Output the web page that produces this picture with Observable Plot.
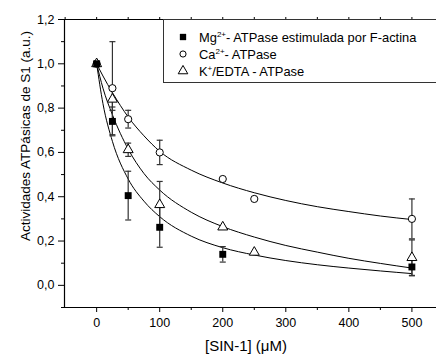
<!DOCTYPE html>
<html><head><meta charset="utf-8">
<script src="https://cdn.jsdelivr.net/npm/d3@7"></script>
<script src="https://cdn.jsdelivr.net/npm/@observablehq/plot@0.6"></script>
<style>
body{margin:0;background:#fff;}
#chart svg{font-family:"Liberation Sans",Arial,sans-serif;overflow:visible;}
</style></head><body><div id="chart"></div>
<script>
// ---- data ----
const mgX   = [0, 25, 50, 100, 200, 500];
const mgY   = [1.0, 0.74, 0.405, 0.262, 0.14, 0.083];
const mgErr = [0, 0.065, 0.11, 0.09, 0.035, 0.04];

const caX   = [0, 25, 50, 100, 200, 250, 500];
const caY   = [1.0, 0.89, 0.75, 0.60, 0.48, 0.39, 0.30];
const caErr = [0, 0.21, 0.04, 0.055, 0, 0, 0.09];

const kX    = [0, 25, 50, 100, 200, 250, 500];
const kY    = [1.0, 0.84, 0.612, 0.364, 0.263, 0.149, 0.125];
const kErr  = [0, 0.05, 0.03, 0.105, 0, 0, 0.08];

const fitX  = [0, 10, 25, 50, 75, 100, 150, 200, 250, 300, 350, 400, 450, 500];
const mgFit = [1.0, 0.82, 0.65, 0.48, 0.38, 0.31, 0.222, 0.17, 0.137, 0.112, 0.093, 0.078, 0.065, 0.053];
const caFit = [1.0, 0.945, 0.87, 0.76, 0.675, 0.605, 0.52, 0.462, 0.418, 0.383, 0.355, 0.333, 0.313, 0.297];
const kFit  = [1.0, 0.89, 0.77, 0.615, 0.505, 0.43, 0.33, 0.265, 0.218, 0.18, 0.15, 0.122, 0.099, 0.078];

const xMajorTicks = [0, 100, 200, 300, 400, 500];
const xMinorTicks = [50, 150, 250, 350, 450];
const xTopTicks   = [-50, 0, 50, 100, 150, 200, 250, 300, 350, 400, 450, 500];
const yMajorTicks = [0, 0.2, 0.4, 0.6, 0.8, 1.0, 1.2];
const yMinorTicks = [-0.1, 0.1, 0.3, 0.5, 0.7, 0.9, 1.1];
const xDomain = [-51, 539];
const yDomain = [-0.1, 1.2];

const xTitle = "[SIN-1] (\u03BCM)";
const yTitle = "Actividades ATPásicas de S1 (a.u.)";

// ---- tables ----
const pts = (xs, ys, es, s) => xs.map((x, i) => ({x, y: ys[i], e: es[i], s}));
const mgPts = pts(mgX, mgY, mgErr, "Mg");
const caPts = pts(caX, caY, caErr, "Ca");
const kPts  = pts(kX, kY, kErr, "K");
const errPts = [...mgPts, ...caPts, ...kPts].filter(d => d.e > 0);
const fit = (ys, s) => fitX.map((x, i) => ({x, y: ys[i], s}));

const cap = {draw(ctx) { ctx.moveTo(-3, 0); ctx.lineTo(3, 0); }};
const fmt = d => d.toFixed(1).replace(".", ",");

const plot = Plot.plot({
  width: 436, height: 358,
  marginLeft: 64, marginRight: 0, marginTop: 19, marginBottom: 51,
  style: {fontFamily: "Liberation Sans, Arial, sans-serif", fontSize: "12.5px", color: "#000", background: "#fff"},
  x: {domain: xDomain},
  y: {domain: yDomain},
  marks: [
    Plot.ruleX([xDomain[0]], {stroke: "#000", strokeWidth: 1.2}),
    Plot.ruleY([yDomain[0]], {stroke: "#000", strokeWidth: 1.2}),
    Plot.ruleY([yDomain[1]], {stroke: "#000", strokeWidth: 1}),
    Plot.axisX({ticks: xMajorTicks, tickSize: 5, tickPadding: 6, label: null}),
    Plot.axisX({ticks: xMinorTicks, tickSize: 3, tickFormat: () => "", label: null}),
    Plot.axisX({anchor: "top", ticks: xTopTicks, tickSize: 3, tickFormat: () => "", label: null}),
    Plot.axisY({ticks: yMajorTicks, tickSize: 6, tickPadding: 4, tickFormat: fmt, label: null}),
    Plot.axisY({ticks: yMinorTicks, tickSize: 3, tickFormat: () => "", label: null}),
    Plot.line(fit(mgFit, "Mg"), {x: "x", y: "y", curve: "monotone-x", stroke: "#000", strokeWidth: 1}),
    Plot.line(fit(caFit, "Ca"), {x: "x", y: "y", curve: "monotone-x", stroke: "#000", strokeWidth: 1}),
    Plot.line(fit(kFit, "K"), {x: "x", y: "y", curve: "monotone-x", stroke: "#000", strokeWidth: 1}),
    Plot.ruleX(errPts, {x: "x", y1: d => d.y - d.e, y2: d => d.y + d.e, stroke: "#333", strokeWidth: 1.2}),
    Plot.dot(errPts, {x: "x", y: d => d.y + d.e, symbol: cap, stroke: "#333", strokeWidth: 1.2}),
    Plot.dot(errPts, {x: "x", y: d => d.y - d.e, symbol: cap, stroke: "#333", strokeWidth: 1.2}),
    Plot.dot(caPts, {x: "x", y: "y", symbol: "circle", r: 3.6, fill: "#fff", stroke: "#000", strokeWidth: 1}),
    Plot.dot(kPts, {x: "x", y: "y", symbol: "triangle", r: 3.7, fill: "#fff", stroke: "#000", strokeWidth: 1}),
    Plot.dot(mgPts, {x: "x", y: "y", symbol: "square", r: 3.9, fill: "#000", stroke: "none"})
  ]
});
document.getElementById("chart").appendChild(plot);

// ---- titles and legend ----
const svg = d3.select(plot);
svg.append("text").attr("transform", "translate(25,136) rotate(-90)")
  .attr("text-anchor", "middle").attr("dy", "0.35em")
  .attr("font-size", "13.5px").attr("fill", "#000").text(yTitle);
svg.append("text").attr("x", 246).attr("y", 351)
  .attr("text-anchor", "middle").attr("font-size", "15px").attr("fill", "#000").text(xTitle);

const lg = svg.append("g").attr("text-anchor", "start");
lg.append("rect").attr("x", 163.5).attr("y", 19.5).attr("width", 290).attr("height", 63)
  .attr("fill", "#fff").attr("stroke", "#333").attr("stroke-width", 1);
const legendRows = [
  {sym: d3.symbolSquare, size: 40, fill: "#000", stroke: "none", parts: [["Mg", 0], ["2+", 1], ["- ATPase estimulada por F-actina", 0]]},
  {sym: d3.symbolCircle, size: 30, fill: "#fff", stroke: "#000", parts: [["Ca", 0], ["2+", 1], ["- ATPase", 0]]},
  {sym: d3.symbolTriangle, size: 40, fill: "#fff", stroke: "#000", parts: [["K", 0], ["+", 1], ["/EDTA - ATPase", 0]]}
];
legendRows.forEach((r, i) => {
  const cy = 37 + i * 17;
  lg.append("path").attr("d", d3.symbol(r.sym, r.size)()).attr("transform", `translate(183,${cy})`)
    .attr("fill", r.fill).attr("stroke", r.stroke);
  const t = lg.append("text").attr("x", 199).attr("y", cy + 4.5).attr("font-size", "12.9px")
    .attr("fill", "#000").attr("text-anchor", "start");
  r.parts.forEach(([s, sup], j) => {
    const ts = t.append("tspan").text(s);
    if (sup) ts.attr("font-size", "8px").attr("dy", "-5");
    else if (j > 0) ts.attr("dy", "5");
  });
});
</script></body></html>
